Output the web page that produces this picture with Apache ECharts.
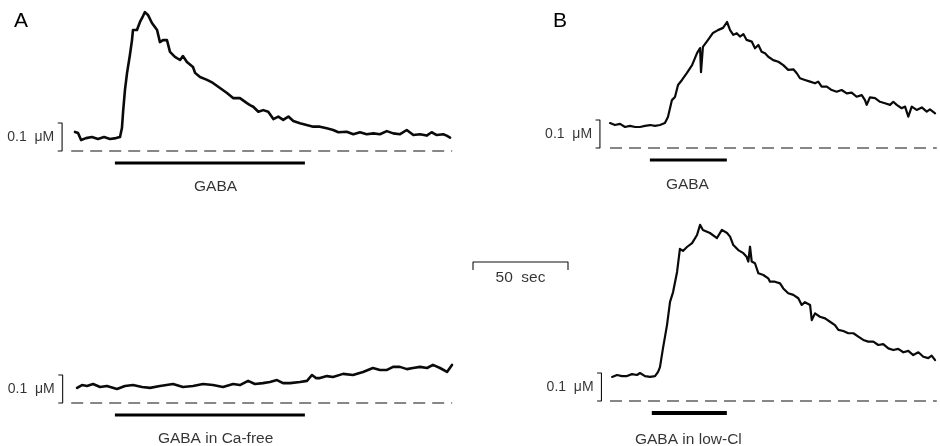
<!DOCTYPE html>
<html>
<head>
<meta charset="utf-8">
<script src="https://cdn.jsdelivr.net/npm/echarts@6.0.0/dist/echarts.min.js"></script>
<style>
html, body { margin: 0; padding: 0; background: #fff; }
#chart { width: 940px; height: 446px; }
</style>
</head>
<body>
<div id="chart"></div>
<script>
// time in sec from start of trace, [Ca]i in uM (0 = dashed baseline)
var aTopTime = [0, 1.6, 3.2, 5.8, 8.9, 12.1, 15.3, 18.4, 21.6, 23.7, 24.7, 25.3, 26.3, 27.4, 28.9, 30, 30.5, 32.6, 34.2, 35.8, 36.8, 38.4, 40.5, 43.2, 44.7, 46.3, 48.4, 50, 52.6, 55.3, 56.8, 58.9, 62.1, 63.2, 65.8, 69.5, 72.6, 76.3, 80, 83.2, 86.8, 90.5, 92.1, 93.8, 96.5, 99.1, 101.7, 104.4, 107, 109.6, 112.3, 114.9, 118.4, 121.9, 125.4, 128.9, 132.5, 135.9, 138.6, 143, 146.5, 150, 153.5, 157, 160.5, 164.1, 167.5, 171.1, 174.6, 178.1, 181.6, 185.1, 187.7, 190.4, 193.8, 195.6, 197.4];
var aTopCa = [0.068, 0.064, 0.039, 0.046, 0.05, 0.043, 0.05, 0.043, 0.046, 0.05, 0.082, 0.139, 0.218, 0.279, 0.343, 0.396, 0.432, 0.432, 0.461, 0.482, 0.496, 0.486, 0.457, 0.432, 0.389, 0.396, 0.396, 0.354, 0.336, 0.325, 0.339, 0.318, 0.3, 0.279, 0.264, 0.254, 0.243, 0.225, 0.207, 0.189, 0.189, 0.171, 0.164, 0.158, 0.14, 0.146, 0.14, 0.114, 0.123, 0.111, 0.123, 0.107, 0.099, 0.093, 0.087, 0.087, 0.081, 0.075, 0.067, 0.069, 0.06, 0.067, 0.06, 0.063, 0.06, 0.071, 0.063, 0.06, 0.075, 0.057, 0.06, 0.055, 0.067, 0.057, 0.06, 0.055, 0.048];

var aBotTime = [1.1, 3.7, 6.3, 9.5, 13.2, 16.8, 22.1, 26.3, 30.5, 35.3, 39.5, 44.7, 51.6, 56.8, 62.1, 67.4, 72.6, 77.9, 83.2, 86.8, 91.1, 94.7, 98.9, 102.6, 106.3, 109.5, 113.2, 118.4, 122.1, 124.7, 126.8, 128.9, 132.6, 135.8, 141.1, 146.3, 151.6, 154.2, 156.8, 160.5, 164.2, 167.4, 171, 174.7, 177.9, 181.6, 185.3, 188.4, 192.1, 195.8, 198.4];
var aBotCa = [0.054, 0.064, 0.061, 0.068, 0.057, 0.061, 0.05, 0.061, 0.064, 0.057, 0.054, 0.061, 0.068, 0.057, 0.061, 0.068, 0.064, 0.057, 0.068, 0.064, 0.079, 0.068, 0.071, 0.075, 0.082, 0.071, 0.071, 0.075, 0.079, 0.1, 0.089, 0.089, 0.096, 0.093, 0.104, 0.1, 0.111, 0.118, 0.125, 0.118, 0.118, 0.129, 0.129, 0.121, 0.125, 0.129, 0.125, 0.136, 0.125, 0.111, 0.136];

var bTopTime = [0, 2.6, 5.3, 7.9, 10.5, 13.2, 15.8, 18.4, 21.1, 23.7, 26.3, 28.9, 30.5, 32.6, 34.2, 35.8, 37.9, 40.5, 43.2, 45.8, 47.4, 47.9, 48.9, 51.6, 54.2, 56.8, 59.5, 61.6, 63.2, 64.9, 66.7, 68.4, 70.2, 71.9, 74.6, 76.3, 78.1, 79.8, 81.6, 83.3, 85.9, 88.6, 91.2, 93.8, 96.5, 98.3, 100, 102.6, 105.3, 107.9, 109.6, 111.4, 114.1, 116.7, 119.3, 121.9, 124.6, 127.2, 129.8, 132.5, 134.2, 135.1, 136.8, 139.5, 142.1, 144.7, 147.4, 149.1, 150.9, 153.5, 155.3, 157, 158.8, 161.4, 164.1, 166.7, 168.4, 171.1];
var bTopCa = [0.089, 0.082, 0.086, 0.075, 0.079, 0.075, 0.075, 0.079, 0.082, 0.079, 0.082, 0.089, 0.111, 0.171, 0.182, 0.225, 0.243, 0.268, 0.296, 0.339, 0.357, 0.271, 0.361, 0.386, 0.411, 0.421, 0.429, 0.45, 0.421, 0.404, 0.41, 0.398, 0.407, 0.386, 0.38, 0.356, 0.368, 0.344, 0.338, 0.326, 0.314, 0.308, 0.296, 0.279, 0.281, 0.267, 0.249, 0.243, 0.237, 0.231, 0.237, 0.219, 0.219, 0.207, 0.201, 0.207, 0.195, 0.198, 0.183, 0.189, 0.171, 0.154, 0.181, 0.178, 0.165, 0.16, 0.154, 0.165, 0.154, 0.142, 0.148, 0.112, 0.148, 0.136, 0.145, 0.13, 0.138, 0.124];

var bBotTime = [1.1, 3.7, 6.3, 8.9, 11.6, 14.2, 15.8, 18.4, 21.1, 23.7, 25.3, 26.3, 27.9, 30, 31.6, 33.2, 35.3, 36.8, 38.4, 40.5, 43.2, 45.8, 47.4, 48.9, 52.6, 56.3, 58.9, 61.6, 63.2, 64.9, 67.5, 70.2, 71.9, 72.8, 73.7, 74.6, 76.3, 78.1, 80.7, 83.3, 84.2, 86.8, 89.5, 91.2, 93.8, 96.5, 99.1, 100.9, 102.6, 105.3, 106.2, 107.9, 110.5, 113.2, 115.8, 118.4, 120.2, 122.8, 125.4, 128.1, 130.7, 133.3, 135.9, 138.6, 141.2, 143.8, 146.5, 149.1, 151.7, 154.4, 157, 159.6, 162.3, 164.9, 167.5, 169.3, 171.1];
var bBotCa = [0.086, 0.093, 0.089, 0.089, 0.096, 0.093, 0.1, 0.089, 0.086, 0.089, 0.104, 0.121, 0.189, 0.271, 0.354, 0.389, 0.461, 0.543, 0.536, 0.55, 0.564, 0.593, 0.629, 0.611, 0.6, 0.582, 0.611, 0.6, 0.587, 0.557, 0.539, 0.528, 0.515, 0.498, 0.551, 0.498, 0.492, 0.456, 0.45, 0.438, 0.426, 0.426, 0.42, 0.402, 0.385, 0.379, 0.367, 0.343, 0.353, 0.343, 0.289, 0.313, 0.301, 0.295, 0.283, 0.271, 0.254, 0.25, 0.242, 0.242, 0.23, 0.218, 0.212, 0.212, 0.2, 0.203, 0.188, 0.182, 0.186, 0.174, 0.179, 0.164, 0.174, 0.158, 0.153, 0.162, 0.146];

// GABA application periods (sec)
var gabaA = [21, 121];
var gabaACaFree = [21, 121];
var gabaB = [21, 61.5];
var gabaBLowCl = [22, 61.5];
var gabaNames = ['GABA', 'GABA in Ca-free', 'GABA', 'GABA in low-Cl'];

// dashed zero line spans (sec)
var zeroA = [-2, 198.5];
var zeroB = [0, 172];

var scaleSec = 50;
var scaleCa = 0.1;

var dom = document.getElementById('chart');
var myChart = echarts.init(dom);

var font = '"Liberation Sans", Arial, sans-serif';
var pxPerSec = 1.9;

function pairs(t, v) {
    var res = [];
    for (var i = 0; i < t.length; i++) res.push([t[i], v[i]]);
    return res;
}

var panels = [
    { time: aTopTime, ca: aTopCa, gaba: gabaA, zero: zeroA, brX: -6.8, lw: 2.6, bw: 3, lbl: -0.129 },
    { time: aBotTime, ca: aBotCa, gaba: gabaACaFree, zero: zeroA, brX: -6.5, lw: 2.6, bw: 3, lbl: -0.129 },
    { time: bTopTime, ca: bTopCa, gaba: gabaB, zero: zeroB, brX: -5.3, lw: 2.2, bw: 3, lbl: -0.132 },
    { time: bBotTime, ca: bBotCa, gaba: gabaBLowCl, zero: zeroB, brX: -4.5, lw: 2.2, bw: 4, lbl: -0.139 }
];

var grids = [
    { left: 56, top: 11, width: 210 * pxPerSec, height: 182 },
    { left: 56, top: 263, width: 210 * pxPerSec, height: 182 },
    { left: 591, top: 8, width: 182 * pxPerSec, height: 182 },
    { left: 591, top: 261, width: 182 * pxPerSec, height: 182 },
    { left: 473, top: 262, width: scaleSec * pxPerSec, height: 8 }
];
var xAxes = [], yAxes = [], series = [];
for (var g = 0; g < 4; g++) {
    xAxes.push({ type: 'value', gridIndex: g, min: -10, max: g < 2 ? 200 : 172, show: false });
    yAxes.push({ type: 'value', gridIndex: g, min: -0.15, max: 0.5, show: false });
}
xAxes.push({ type: 'value', gridIndex: 4, min: 0, max: scaleSec, show: false });
yAxes.push({ type: 'value', gridIndex: 4, min: 0, max: 1, show: false });

var hidden = { color: 'rgba(0,0,0,0)' };

panels.forEach(function (p, i) {
    var common = { xAxisIndex: i, yAxisIndex: i, clip: false, silent: true, animation: false };
    series.push(Object.assign({
        type: 'line', data: pairs(p.time, p.ca), showSymbol: false,
        lineStyle: { color: '#0a0a0a', width: p.lw, join: 'round', cap: 'round' }
    }, common));
    series.push(Object.assign({
        type: 'line', data: [[p.zero[0], 0], [p.zero[1], 0]], showSymbol: false,
        lineStyle: { color: '#111', width: 1.2, type: [12, 7] }
    }, common));
    series.push(Object.assign({
        type: 'line', showSymbol: false,
        data: [[p.brX - 2.3, scaleCa], [p.brX, scaleCa], [p.brX, 0], [p.brX - 2.3, 0]],
        lineStyle: { color: '#111', width: 1.1 }
    }, common));
    series.push(Object.assign({
        type: 'scatter', symbolSize: 1, itemStyle: hidden,
        data: [[p.brX - 2.3, scaleCa / 2]],
        label: { show: true, position: 'left', distance: 3, formatter: '0.1  \u03bcM', fontSize: 14, fontFamily: font, color: '#000' }
    }, common));
    series.push(Object.assign({
        type: 'line', showSymbol: false,
        data: [[p.gaba[0], -0.043], [p.gaba[1], -0.043]],
        lineStyle: { color: '#000', width: p.bw }
    }, common));
    series.push(Object.assign({
        type: 'scatter', symbolSize: 1, itemStyle: hidden,
        data: [[i < 2 ? (p.gaba[0] + p.gaba[1]) / 2 + 3 : (p.gaba[0] + p.gaba[1]) / 2 - 0.5, p.lbl]],
        label: { show: true, position: 'inside', formatter: gabaNames[i], fontSize: 15.5, fontFamily: font, color: '#000' }
    }, common));
});

// 50 sec time bar
series.push({
    type: 'line', xAxisIndex: 4, yAxisIndex: 4, clip: false, silent: true, animation: false, showSymbol: false,
    data: [[0, 0], [0, 1], [scaleSec, 1], [scaleSec, 0]],
    lineStyle: { color: '#111', width: 1.1 }
});
series.push({
    type: 'scatter', xAxisIndex: 4, yAxisIndex: 4, clip: false, silent: true, animation: false,
    symbolSize: 1, itemStyle: hidden, data: [[scaleSec / 2, -0.95]],
    label: { show: true, position: 'inside', formatter: scaleSec + '  sec', fontSize: 15.5, fontFamily: font, color: '#000' }
});

var option = {
    backgroundColor: '#fff',
    animation: false,
    grid: grids,
    xAxis: xAxes,
    yAxis: yAxes,
    graphic: [
        { type: 'text', left: 14, top: 11, style: { text: 'A', fontSize: 21, fontFamily: font, fill: '#000' } },
        { type: 'text', left: 553, top: 11, style: { text: 'B', fontSize: 21, fontFamily: font, fill: '#000' } }
    ],
    series: series
};
myChart.setOption(option);
</script>
</body>
</html>
